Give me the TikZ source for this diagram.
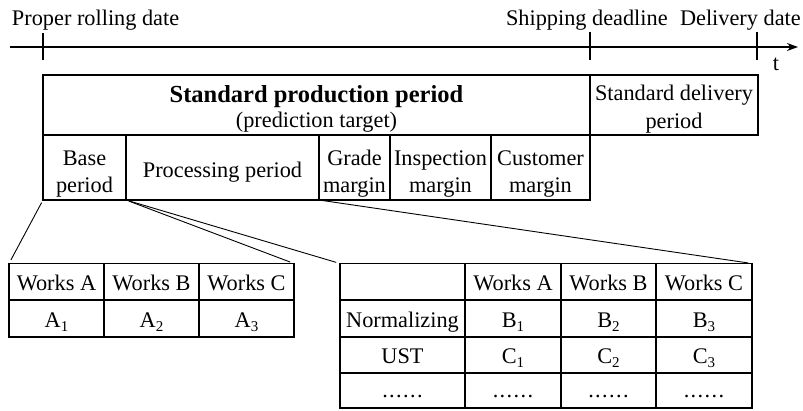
\documentclass[tikz,border=0pt]{standalone}
\usepackage{fontspec}
\setmainfont{Liberation Serif}
\usetikzlibrary{arrows.meta,fit}
% lowered, smaller index digit
\newcommand\idx[1]{\raisebox{-4.5pt}{\fontsize{15}{15}\selectfont #1}}
% spaced row of six dots
\newcommand\dotrow{.\kern1.4pt.\kern1.4pt.\kern1.4pt.\kern1.4pt.\kern1.4pt.}

\begin{document}
\begin{tikzpicture}[x=1pt,y=-1pt,
  every node/.style={inner sep=0pt, outer sep=0pt},
  cell/.style={draw, line width=1.15pt, rectangle, inner sep=0pt},
  txt/.style={anchor=base, font=\fontsize{22.3}{26}\selectfont},
  ttl/.style={anchor=base, font=\fontsize{24.5}{28}\selectfont\bfseries},
  lead/.style={line width=0.9pt, shorten <=3pt, shorten >=4pt},
  axis/.style={line width=1.15pt}]
\useasboundingbox (0,0) rectangle (803,410);

% time axis with event ticks
\coordinate (t0) at (10,47);
\coordinate (t1) at (798,47);
\draw[axis,-{Stealth[length=11pt,width=8pt]}] (t0) -- (t1);
\coordinate (k1a) at (43,33);  \coordinate (k1b) at (43,60);
\coordinate (k2a) at (590,32); \coordinate (k2b) at (590,60);
\coordinate (k3a) at (757,32); \coordinate (k3b) at (757,60);
\draw[axis] (k1a) -- (k1b);
\draw[axis] (k2a) -- (k2b);
\draw[axis] (k3a) -- (k3b);
\node[txt, anchor=base west] (lproper) at (12,25) {Proper rolling date};
\node[txt, anchor=base west] (lship) at (506,25) {Shipping deadline};
\node[txt, anchor=base west] (ldeliv) at (680,25) {Delivery date};
\node[txt] (lt) at (776,70) {t};

% period breakdown
\node[cell, fit={(43,75) (590,135)}] (prod) {};
\node[cell, fit={(590,75) (758,135)}] (deliv) {};
\node[cell, fit={(43,135) (126,200)}] (base) {};
\node[cell, fit={(126,135) (319,200)}] (proc) {};
\node[cell, fit={(319,135) (390,200)}] (grade) {};
\node[cell, fit={(390,135) (491,200)}] (insp) {};
\node[cell, fit={(491,135) (590,200)}] (cust) {};

\node[ttl] (prodA) at (316.5,102) {Standard production period};
\node[txt] (prodB) at (316.5,127) {(prediction target)};
\node[txt] (delivA) at (674,100) {Standard delivery};
\node[txt] (delivB) at (674,128) {period};
\node[txt] (baseA) at (84.5,165) {Base};
\node[txt] (baseB) at (84.5,192) {period};
\node[txt] (procA) at (222.5,177) {Processing period};
\node[txt] (gradeA) at (354.5,165) {Grade};
\node[txt] (gradeB) at (354.5,192) {margin};
\node[txt] (inspA) at (440.5,165) {Inspection};
\node[txt] (inspB) at (440.5,192) {margin};
\node[txt] (custA) at (540.5,165) {Customer};
\node[txt] (custB) at (540.5,192) {margin};

% base period table
\foreach \c/\xa/\xb in {1/9/104, 2/104/199, 3/199/294} {
  \node[cell, fit={(\xa,263.5) (\xb,300)}] (la\c) {};
  \node[cell, fit={(\xa,300) (\xb,337)}] (lb\c) {};
}
\node[txt] (twa) at (56.5,290) {Works A};
\node[txt] (twb) at (151.5,290) {Works B};
\node[txt] (twc) at (246.5,290) {Works C};
\node[txt] (ta1) at (56.5,327) {A\idx{1}};
\node[txt] (ta2) at (151.5,327) {A\idx{2}};
\node[txt] (ta3) at (246.5,327) {A\idx{3}};

% processing period table
\foreach \r/\ya/\yb in {1/263.5/300, 2/300/337, 3/337/373, 4/373/408} {
  \foreach \c/\xa/\xb in {1/340/465, 2/465/561, 3/561/656, 4/656/752} {
    \node[cell, fit={(\xa,\ya) (\xb,\yb)}] (r\r-\c) {};
  }
}
\node[txt] (rwa) at (513,290) {Works A};
\node[txt] (rwb) at (608.5,290) {Works B};
\node[txt] (rwc) at (704,290) {Works C};
\node[txt] (rnorm) at (402.5,327) {Normalizing};
\node[txt] (rb1) at (513,327) {B\idx{1}};
\node[txt] (rb2) at (608.5,327) {B\idx{2}};
\node[txt] (rb3) at (704,327) {B\idx{3}};
\node[txt] (rust) at (402.5,363) {UST};
\node[txt] (rc1) at (513,363) {C\idx{1}};
\node[txt] (rc2) at (608.5,363) {C\idx{2}};
\node[txt] (rc3) at (704,363) {C\idx{3}};
\node[txt] (rd0) at (402.5,397) {\dotrow};
\node[txt] (rd1) at (513,397) {\dotrow};
\node[txt] (rd2) at (608.5,397) {\dotrow};
\node[txt] (rd3) at (704,397) {\dotrow};

% call-out lines
\draw[lead] (base.south west) -- (la1.north west);
\draw[lead] (proc.south west) -- (la3.north east);
\draw[lead] (proc.south west) -- (r1-1.north west);
\draw[lead] (grade.south west) -- (r1-4.north east);
\end{tikzpicture}
\end{document}
